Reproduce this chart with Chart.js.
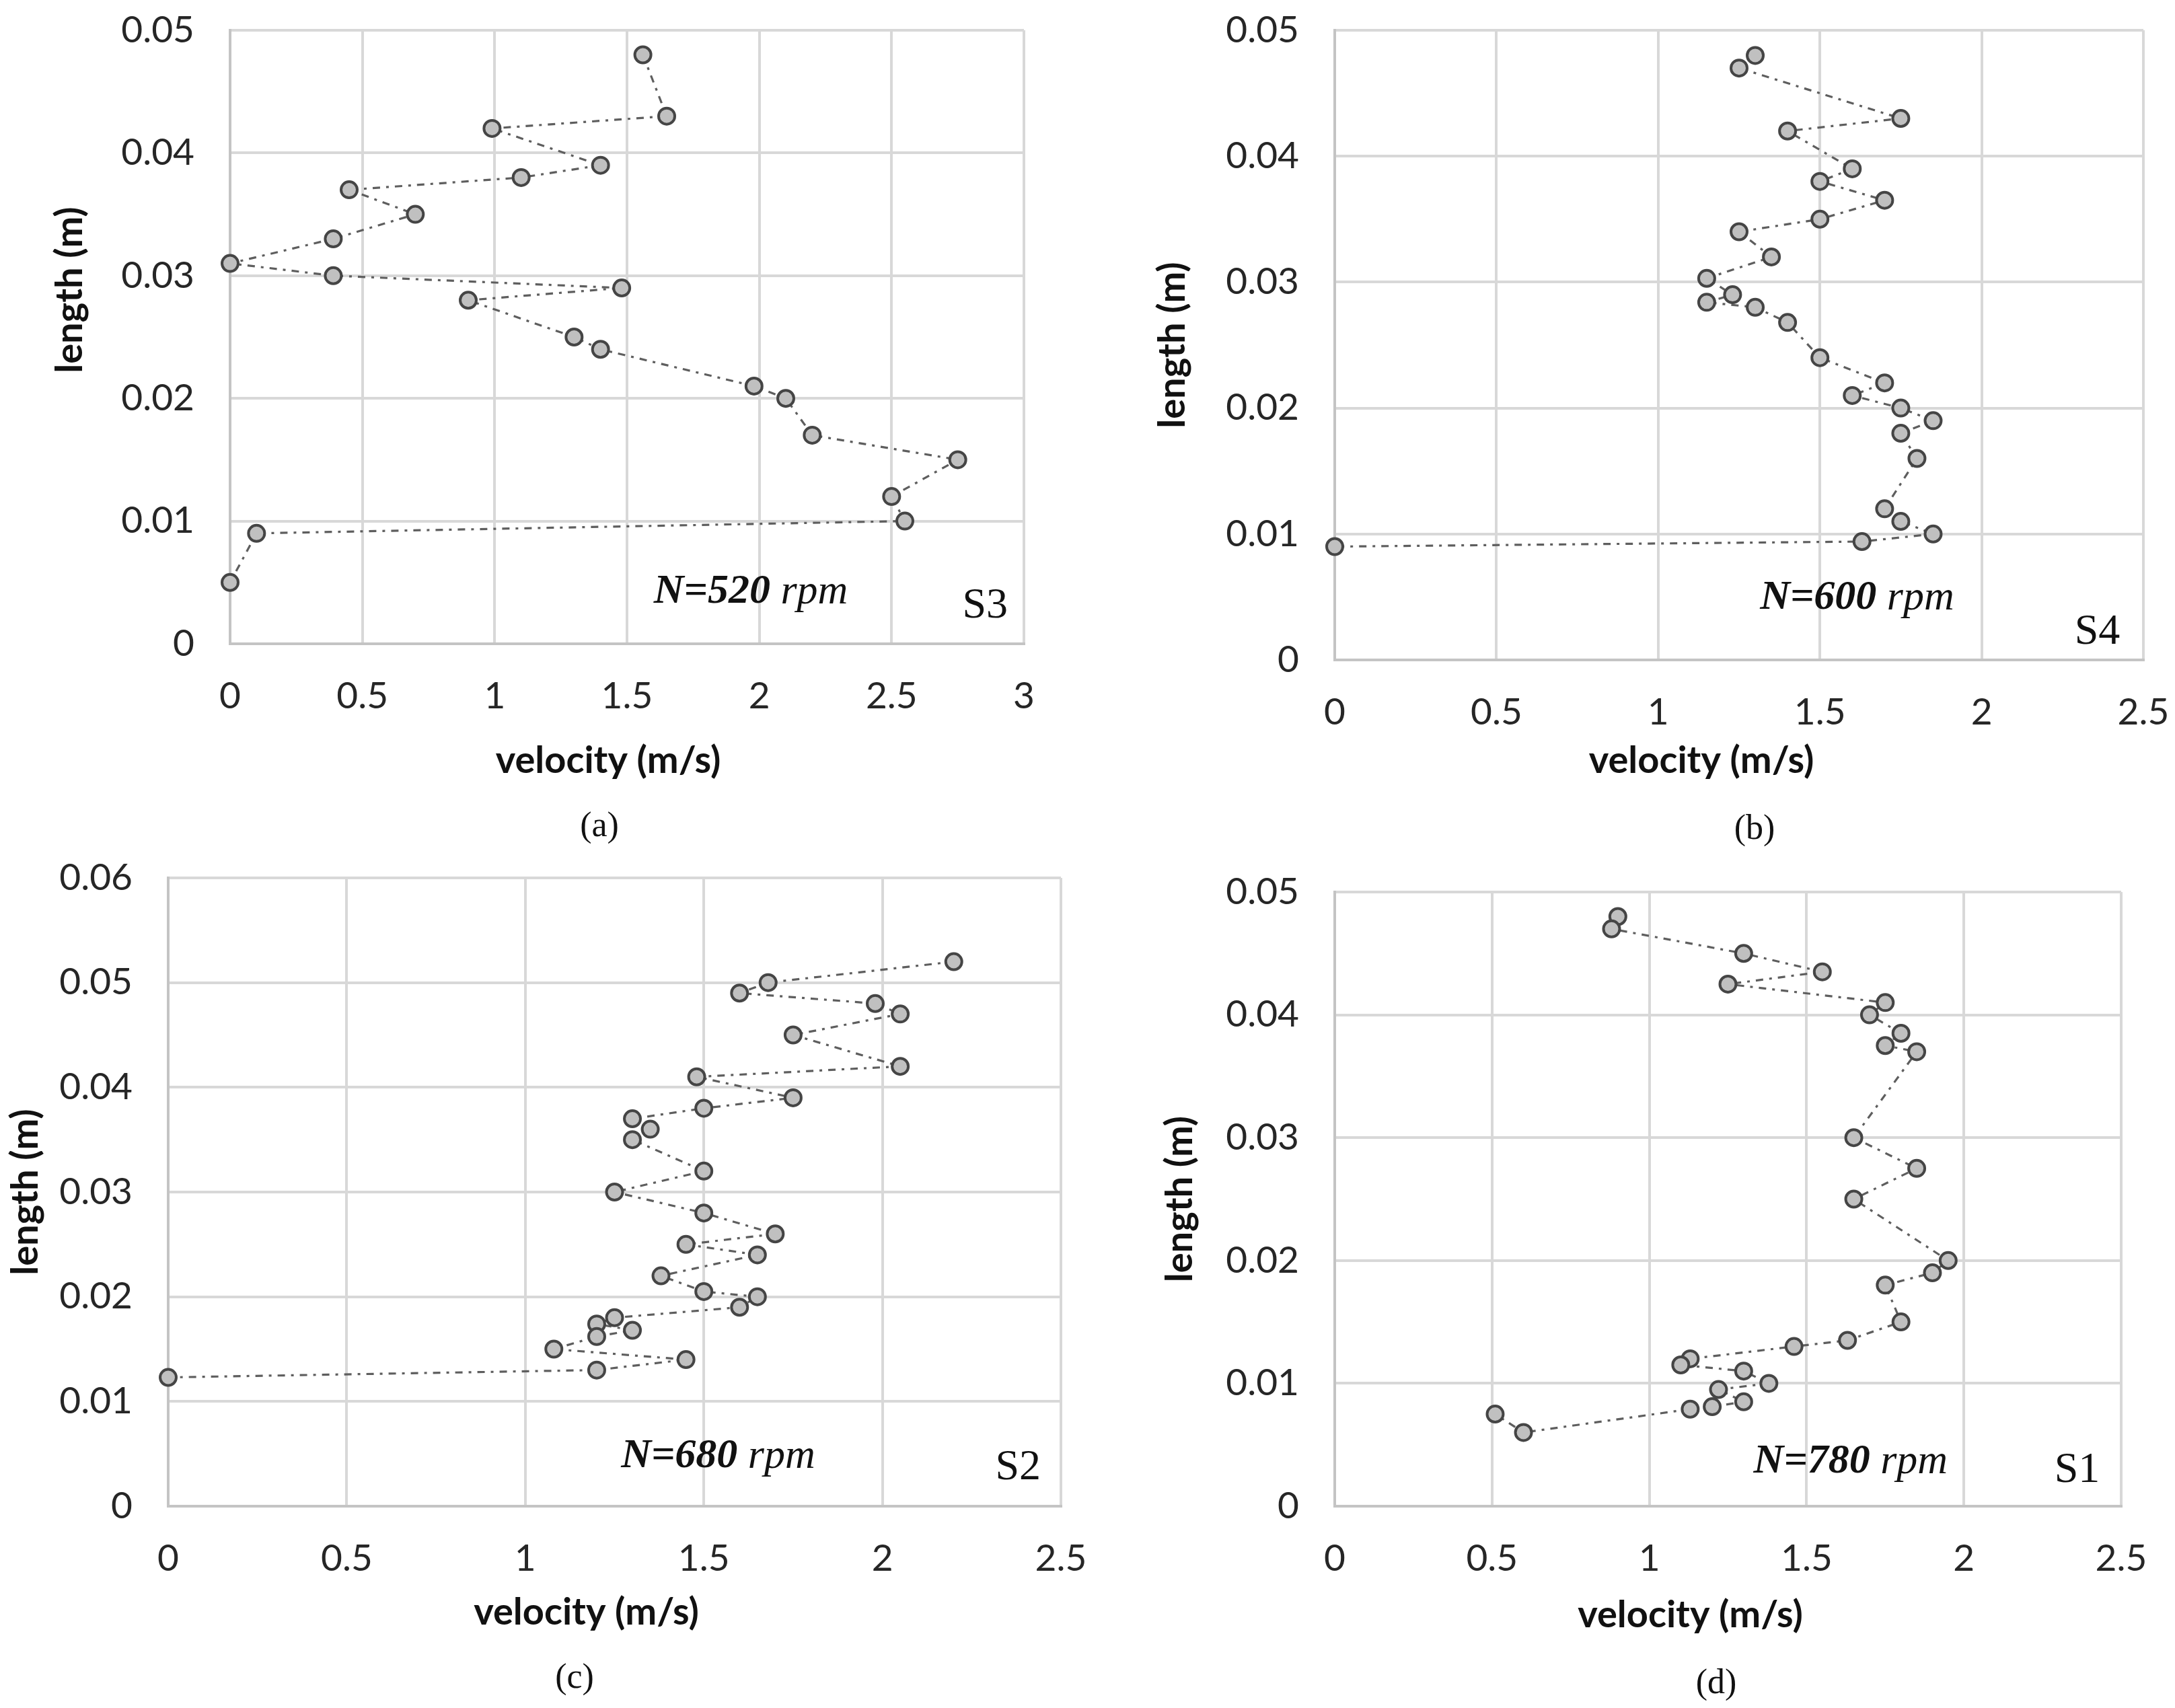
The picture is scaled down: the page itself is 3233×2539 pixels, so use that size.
<!DOCTYPE html>
<html>
<head>
<meta charset="utf-8">
<script src="https://cdn.jsdelivr.net/npm/chart.js@4.4.1/dist/chart.umd.min.js"></script>
<style>
  body { margin: 0; background: #fff; width: 3233px; height: 2539px; position: relative; overflow: hidden; }
  canvas { position: absolute; }
  .cap { position: absolute; font-family: "Liberation Serif", serif; font-size: 52px; color: #111;
         transform: translate(-50%, -50%); }
</style>
</head>
<body>
<canvas id="chartS3" width="1610" height="1180" style="left:0;top:0"></canvas>
<canvas id="chartS4" width="1583" height="1180" style="left:1650px;top:0"></canvas>
<canvas id="chartS2" width="1640" height="1279" style="left:0;top:1260px"></canvas>
<canvas id="chartS1" width="1583" height="1279" style="left:1650px;top:1260px"></canvas>
<div class="cap" style="left:891px;top:1225px">(a)</div>
<div class="cap" style="left:2608px;top:1229px">(b)</div>
<div class="cap" style="left:854px;top:2491px">(c)</div>
<div class="cap" style="left:2551px;top:2499px">(d)</div>
<script>
// tick values
var xTicks3 = [0, 0.5, 1, 1.5, 2, 2.5, 3];
var xTicks25 = [0, 0.5, 1, 1.5, 2, 2.5];
var yTicks05 = [0, 0.01, 0.02, 0.03, 0.04, 0.05];
var yTicks06 = [0, 0.01, 0.02, 0.03, 0.04, 0.05, 0.06];

// S3, N=520 rpm
var velS3 = [1.56, 1.65, 0.99, 1.40, 1.10, 0.45, 0.70, 0.39, 0, 0.39, 1.48, 0.90, 1.30, 1.40, 1.98, 2.10, 2.20, 2.75, 2.50, 2.55, 0.10, 0];
var lenS3 = [0.048, 0.043, 0.042, 0.039, 0.038, 0.037, 0.035, 0.033, 0.031, 0.030, 0.029, 0.028, 0.025, 0.024, 0.021, 0.020, 0.017, 0.015, 0.012, 0.010, 0.009, 0.005];

// S4, N=600 rpm
var velS4 = [1.30, 1.25, 1.75, 1.40, 1.60, 1.50, 1.70, 1.50, 1.25, 1.35, 1.15, 1.23, 1.15, 1.30, 1.40, 1.50, 1.70, 1.60, 1.75, 1.85, 1.75, 1.80, 1.70, 1.75, 1.85, 1.63, 0];
var lenS4 = [0.048, 0.047, 0.043, 0.042, 0.039, 0.038, 0.0365, 0.035, 0.034, 0.032, 0.0303, 0.029, 0.0284, 0.028, 0.0268, 0.024, 0.022, 0.021, 0.020, 0.019, 0.018, 0.016, 0.012, 0.011, 0.010, 0.0094, 0.009];

// S2, N=680 rpm
var velS2 = [2.20, 1.68, 1.60, 1.98, 2.05, 1.75, 2.05, 1.48, 1.75, 1.50, 1.30, 1.35, 1.30, 1.50, 1.25, 1.50, 1.70, 1.45, 1.65, 1.38, 1.50, 1.65, 1.60, 1.25, 1.20, 1.30, 1.20, 1.08, 1.45, 1.20, 0];
var lenS2 = [0.052, 0.050, 0.049, 0.048, 0.047, 0.045, 0.042, 0.041, 0.039, 0.038, 0.037, 0.036, 0.035, 0.032, 0.030, 0.028, 0.026, 0.025, 0.024, 0.022, 0.0205, 0.020, 0.019, 0.018, 0.0174, 0.0168, 0.0162, 0.015, 0.014, 0.013, 0.0123];

// S1, N=780 rpm
var velS1 = [0.90, 0.88, 1.30, 1.55, 1.25, 1.75, 1.70, 1.80, 1.75, 1.85, 1.65, 1.85, 1.65, 1.95, 1.90, 1.75, 1.80, 1.63, 1.46, 1.13, 1.10, 1.30, 1.38, 1.22, 1.30, 1.20, 1.13, 0.60, 0.51];
var lenS1 = [0.048, 0.047, 0.045, 0.0435, 0.0425, 0.041, 0.040, 0.0385, 0.0375, 0.037, 0.030, 0.0275, 0.025, 0.020, 0.019, 0.018, 0.015, 0.0135, 0.013, 0.012, 0.0115, 0.011, 0.010, 0.0095, 0.0085, 0.0081, 0.0079, 0.006, 0.0075];

Chart.defaults.font.family = 'Lato';

var EN = '\u2002';
function pad(n) { return new Array(n + 1).join(EN); }

// rpm text and sample name inside the plot area
var annotate = {
  id: 'annotate',
  afterDraw: function(chart) {
    var o = chart.options.plugins.annotate;
    var ctx = chart.ctx, a = chart.chartArea;
    ctx.save();
    ctx.fillStyle = '#111';
    ctx.textBaseline = 'middle';
    ctx.textAlign = 'left';
    var cx = a.left + o.rpmPos[0] * a.width, cy = a.top + o.rpmPos[1] * a.height;
    var f1 = 'italic bold 62px "Liberation Serif"', f2 = 'italic 62px "Liberation Serif"';
    ctx.font = f1; var w1 = ctx.measureText(o.rpm).width;
    ctx.font = f2; var w2 = ctx.measureText(' rpm').width;
    var x0 = cx - (w1 + w2) / 2;
    ctx.font = f1; ctx.fillText(o.rpm, x0, cy);
    ctx.font = f2; ctx.fillText(' rpm', x0 + w1, cy);
    ctx.font = '64px "Liberation Serif"';
    ctx.textAlign = 'center';
    ctx.fillText(o.name, a.left + o.namePos[0] * a.width, a.top + o.namePos[1] * a.height);
    ctx.restore();
  }
};

function makeChart(id, vel, len, p) {
  var pts = vel.map(function(v, i) { return { x: v, y: len[i] }; });
  return new Chart(document.getElementById(id), {
    type: 'scatter',
    data: {
      datasets: [{
        data: pts,
        showLine: true,
        tension: 0,
        borderColor: '#5e5e5e',
        borderWidth: 3.2,
        borderDash: [11, 9, 4, 9],
        pointRadius: 12,
        pointBorderWidth: 4,
        pointBackgroundColor: '#c0c0c0',
        pointBorderColor: '#454545',
        clip: false
      }]
    },
    options: {
      responsive: false,
      animation: false,
      events: [],
      layout: { padding: { top: p.padTop, right: p.padRight, left: 0, bottom: 0 } },
      plugins: {
        legend: { display: false },
        tooltip: { enabled: false },
        annotate: { rpm: p.rpm, name: p.name, rpmPos: p.rpmPos, namePos: p.namePos }
      },
      scales: {
        x: {
          type: 'linear',
          min: 0,
          max: p.xTicks[p.xTicks.length - 1],
          afterBuildTicks: function(s) { s.ticks = p.xTicks.map(function(v) { return { value: v }; }); },
          afterFit: function(s) { s.height = p.xAxisH; s.paddingLeft = 0; s.paddingRight = 0; },
          ticks: { font: { size: 55 }, color: '#262626', padding: 45, maxRotation: 0,
                   callback: function(v) { return String(v); } },
          grid: { color: '#d8d8d8', lineWidth: 4, drawTicks: false },
          border: { color: '#c4c4c4', width: 4 },
          title: { display: true, text: 'velocity (m/s)' + pad(p.xShift), color: '#111',
                   font: { size: 56, weight: 'bold' }, padding: { top: 0, bottom: p.xTitlePad } }
        },
        y: {
          type: 'linear',
          min: 0,
          max: p.yTicks[p.yTicks.length - 1],
          afterBuildTicks: function(s) { s.ticks = p.yTicks.map(function(v) { return { value: v }; }); },
          afterFit: function(s) { s.width = p.yAxisW; s.paddingTop = 0; s.paddingBottom = 0; },
          ticks: { font: { size: 55 }, color: '#262626', padding: 53,
                   callback: function(v) { return String(v); } },
          grid: { color: '#d8d8d8', lineWidth: 4, drawTicks: false },
          border: { color: '#c4c4c4', width: 4 },
          title: { display: true, text: pad(p.yShift) + 'length (m)', color: '#111',
                   font: { size: 56, weight: 'bold' }, padding: { top: p.yTitlePad, bottom: 0 } }
        }
      }
    },
    plugins: [annotate]
  });
}

makeChart('chartS3', velS3, lenS3, {
  xTicks: xTicks3, yTicks: yTicks05, padTop: 45, padRight: 88, yAxisW: 342, xAxisH: 223,
  xTitlePad: 15, yTitlePad: 70, xShift: 2, yShift: 5,
  rpm: 'N=520', name: 'S3', rpmPos: [0.656, 0.916], namePos: [0.951, 0.939]
});
makeChart('chartS4', velS4, lenS4, {
  xTicks: xTicks25, yTicks: yTicks05, padTop: 45, padRight: 47, yAxisW: 334, xAxisH: 199,
  xTitlePad: 15, yTitlePad: 59, xShift: 4, yShift: 0,
  rpm: 'N=600', name: 'S4', rpmPos: [0.646, 0.902], namePos: [0.943, 0.956]
});
makeChart('chartS2', velS2, lenS2, {
  xTicks: xTicks25, yTicks: yTicks06, padTop: 45, padRight: 63, yAxisW: 250, xAxisH: 300,
  xTitlePad: 108, yTitlePad: 4, xShift: 3, yShift: 0,
  rpm: 'N=680', name: 'S2', rpmPos: [0.616, 0.921], namePos: [0.952, 0.939]
});
makeChart('chartS1', velS1, lenS1, {
  xTicks: xTicks25, yTicks: yTicks05, padTop: 66, padRight: 80, yAxisW: 334, xAxisH: 300,
  xTitlePad: 104, yTitlePad: 70, xShift: 4, yShift: 0,
  rpm: 'N=780', name: 'S1', rpmPos: [0.656, 0.928], namePos: [0.944, 0.942]
});
</script>
</body>
</html>
